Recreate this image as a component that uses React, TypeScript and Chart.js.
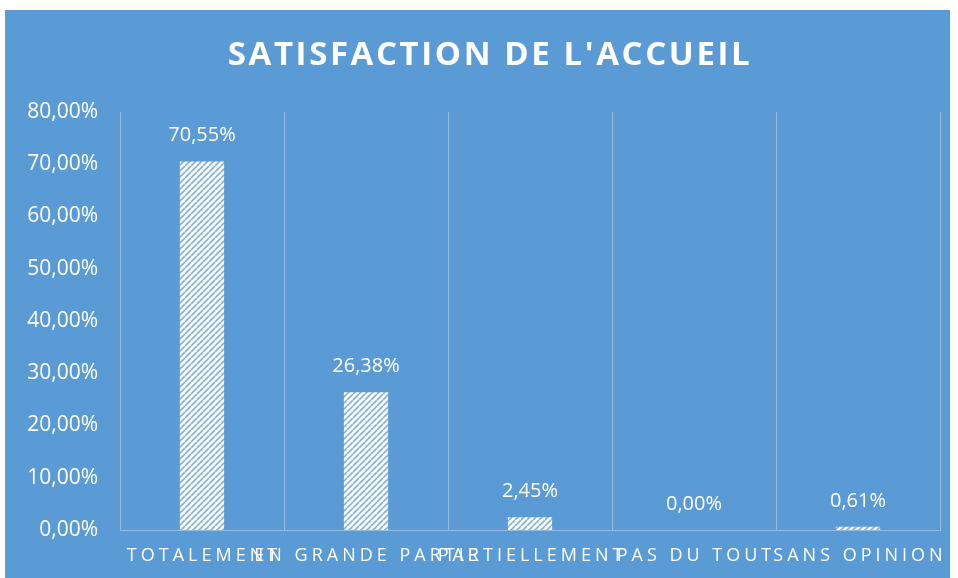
import React, { useEffect, useRef } from "react";
import { Chart, registerables } from "chart.js";

Chart.register(...registerables);

const TITLE = "SATISFACTION DE L'ACCUEIL";
const categories = ["TOTALEMENT", "EN GRANDE PARTIE", "PARTIELLEMENT", "PAS DU TOUT", "SANS OPINION"];
const values = [70.55, 26.38, 2.45, 0.0, 0.61];
const yMax = 80;
const yStep = 10;

const BG = "#5B9BD5";
const GRID = "rgba(255,255,255,0.35)";
const FONT = "'Open Sans', 'DejaVu Sans', sans-serif";

const fmt = (v: number) => v.toFixed(2).replace(".", ",") + "%";

function makePattern(): CanvasPattern | string {
  const c = document.createElement("canvas");
  c.width = 6;
  c.height = 6;
  const g = c.getContext("2d");
  if (!g) return "#ffffff";
  g.fillStyle = "#ffffff";
  g.fillRect(0, 0, 6, 6);
  g.strokeStyle = "#7fb0e0";
  g.lineWidth = 1.6;
  g.beginPath();
  for (let k = -6; k <= 12; k += 6) {
    g.moveTo(k, 6);
    g.lineTo(k + 6, 0);
  }
  g.stroke();
  const p = g.createPattern(c, "repeat");
  return p || "#ffffff";
}

const textPlugin = {
  id: "texts",
  afterDraw(chart: any) {
    const ctx = chart.ctx as CanvasRenderingContext2D;
    const xs = chart.scales.x;
    ctx.save();
    ctx.fillStyle = "#ffffff";
    // title
    ctx.font = `bold 33px ${FONT}`;
    (ctx as any).letterSpacing = "2.6px";
    ctx.textAlign = "center";
    ctx.textBaseline = "middle";
    ctx.fillText(TITLE, 485, 46);
    // x labels
    ctx.font = `18px ${FONT}`;
    (ctx as any).letterSpacing = "4px";
    ctx.textBaseline = "middle";
    categories.forEach((lab, i) => {
      const x = xs.getPixelForTick(i);
      ctx.fillText(lab, x + 2, 546);
    });
    // data labels
    (ctx as any).letterSpacing = "0px";
    ctx.font = `20px ${FONT}`;
    ctx.textBaseline = "alphabetic";
    const meta = chart.getDatasetMeta(0);
    meta.data.forEach((bar: any, i: number) => {
      ctx.fillText(fmt(values[i]), bar.x, bar.y - 20);
    });
    ctx.restore();
  },
};

export default function App() {
  const ref = useRef<HTMLCanvasElement>(null);
  useEffect(() => {
    if (!ref.current) return;
    const chart = new Chart(ref.current, {
      type: "bar",
      data: {
        labels: categories,
        datasets: [
          {
            data: values,
            backgroundColor: makePattern() as any,
            borderWidth: 0,
            categoryPercentage: 1,
            barPercentage: 0.27,
          },
        ],
      },
      options: {
        responsive: false,
        animation: false,
        devicePixelRatio: 1,
        layout: { padding: { top: 102, right: 10, left: 0, bottom: 0 } },
        plugins: { legend: { display: false }, title: { display: false }, tooltip: { enabled: false } },
        scales: {
          x: {
            grid: { display: true, color: GRID, offset: true, drawTicks: false, lineWidth: 1 },
            border: { display: true, color: GRID, width: 1 },
            ticks: { color: "rgba(0,0,0,0)", font: { size: 16, family: FONT } },
            afterFit(s: any) {
              s.height = 48;
            },
          },
          y: {
            min: 0,
            max: yMax,
            grid: { display: false, drawTicks: false },
            border: { display: false },
            ticks: {
              stepSize: yStep,
              color: "#ffffff",
              padding: 22,
              font: { size: 21, family: FONT },
              callback: (v: any) => fmt(Number(v)),
            },
            afterFit(s: any) {
              s.width = 115;
            },
          },
        },
      },
      plugins: [textPlugin],
    });
    return () => chart.destroy();
  }, []);
  return (
    <div style={{ position: "absolute", left: 5, top: 10, width: 945, height: 568, background: BG }}>
      <canvas ref={ref} width={945} height={568} style={{ display: "block" }} />
    </div>
  );
}
